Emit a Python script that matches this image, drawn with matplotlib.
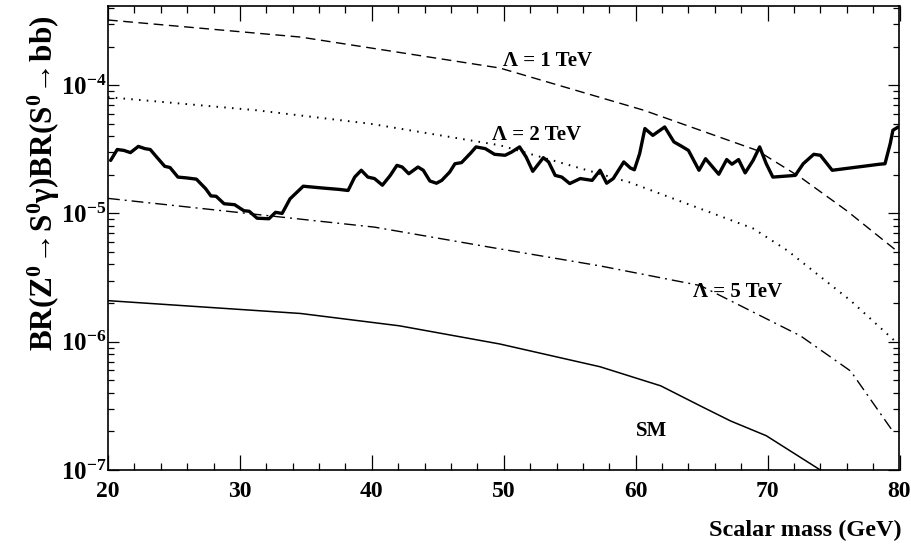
import numpy as np
import matplotlib
matplotlib.use("Agg")
import matplotlib.pyplot as plt
from matplotlib.ticker import MultipleLocator, LogLocator, FuncFormatter, NullFormatter

# experimental limit (thick wiggly curve)
limit_mass = [20.2, 20.7, 21.2, 21.7, 22.3, 22.8, 23.2, 23.8, 24.3, 24.7,
              25.3, 26.0, 26.7, 27.4, 27.8, 28.2, 28.8, 29.6, 30.3, 30.7,
              31.3, 32.2, 32.7, 33.2, 33.8, 34.8, 36.2, 37.5, 38.2, 38.7,
              39.2, 39.7, 40.2, 40.8, 41.4, 41.9, 42.3, 42.8, 43.5, 43.9,
              44.4, 44.9, 45.3, 45.9, 46.3, 46.8, 47.5, 47.9, 48.6, 49.3,
              50.1, 50.6, 51.2, 51.7, 52.2, 53.0, 53.4, 53.9, 54.4, 55.0,
              55.8, 56.7, 57.3, 57.8, 58.3, 59.1, 59.6, 59.9, 60.3, 60.7,
              61.3, 62.2, 62.9, 63.5, 64.0, 64.8, 65.3, 66.3, 66.9, 67.3,
              67.8, 68.3, 68.9, 69.4, 69.9, 70.4, 72.1, 72.7, 73.5, 74.0,
              74.9, 78.5, 78.9, 79.3, 79.5, 79.9]
limit_br = [2.59, 3.15, 3.10, 2.98, 3.33, 3.20, 3.15, 2.67, 2.33, 2.28,
            1.92, 1.89, 1.85, 1.56, 1.37, 1.36, 1.19, 1.17, 1.05, 1.04,
            0.918, 0.909, 1.02, 1.00, 1.30, 1.63, 1.58, 1.54, 1.51, 1.92,
            2.17, 1.92, 1.87, 1.66, 1.98, 2.37, 2.30, 2.04, 2.30, 2.17,
            1.79, 1.72, 1.81, 2.10, 2.44, 2.49, 2.96, 3.30, 3.20, 2.89,
            2.84, 3.01, 3.30, 2.75, 2.13, 2.72, 2.52, 1.98, 1.92, 1.71,
            1.87, 1.81, 2.17, 1.72, 1.87, 2.52, 2.26, 2.19, 2.92, 4.59,
            4.06, 4.72, 3.61, 3.33, 3.10, 2.17, 2.67, 2.02, 2.63, 2.42,
            2.63, 2.07, 2.59, 3.30, 2.44, 1.92, 1.98, 2.44, 2.89, 2.84,
            2.17, 2.42, 2.44, 3.51, 4.45, 4.72]  # x 1e-5

# model predictions
lam1_mass = [20, 34.6, 49.7, 60.6, 69.2, 72.5, 76.0, 79.9]
lam1_br = [3.22e-4, 2.37e-4, 1.36e-4, 6.38e-5, 3.1e-5, 1.91e-5, 1.05e-5, 5.0e-6]

lam2_mass = [20, 31.2, 39.9, 49.7, 59.6, 68.9, 71.5, 76.3, 79.8]
lam2_br = [8.06e-5, 6.38e-5, 5.0e-5, 3.4e-5, 1.74e-5, 7.64e-6, 5.14e-6, 2.09e-6, 9.8e-7]

lam5_mass = [20, 40.2, 49.2, 57.3, 64.9, 72.5, 76.3, 79.5]
lam5_br = [1.31e-5, 7.82e-6, 5.4e-6, 3.9e-6, 2.74e-6, 1.11e-6, 5.9e-7, 2.0e-7]

sm_mass = [20, 34.6, 42.1, 49.7, 57.3, 61.9, 64.9, 67.2, 69.9, 74.0]
sm_br = [2.09e-6, 1.66e-6, 1.33e-6, 9.6e-7, 6.38e-7, 4.53e-7, 3.16e-7, 2.41e-7, 1.85e-7, 1.0e-7]

plt.rcParams['font.family'] = 'Liberation Serif'
plt.rcParams['font.weight'] = 'bold'
plt.rcParams['mathtext.fontset'] = 'custom'
plt.rcParams['mathtext.rm'] = 'Liberation Serif:bold'
plt.rcParams['mathtext.it'] = 'Liberation Serif:bold:italic'
plt.rcParams['mathtext.bf'] = 'Liberation Serif:bold'

W, H = 912, 558
fig = plt.figure(figsize=(W / 100, H / 100), dpi=100)
x0, x1, y0, y1 = 108, 899.5, 6, 470
ax = fig.add_axes([x0 / W, 1 - y1 / H, (x1 - x0) / W, (y1 - y0) / H])

ax.plot(lam1_mass, lam1_br, color='black', lw=1.0, linestyle=(0, (7, 4)))
ax.plot(lam2_mass, lam2_br, color='black', lw=1.4, linestyle=(0, (0.8, 3.2)))
ax.plot(lam5_mass, lam5_br, color='black', lw=1.0, linestyle=(0, (8.5, 3.6, 1.4, 3.6)))
ax.plot(sm_mass, sm_br, color='black', lw=1.1)
ax.plot(limit_mass, np.array(limit_br) * 1e-5, color='black', lw=2.4,
        solid_joinstyle='round', solid_capstyle='round')

ax.set_yscale('log')
ax.set_xlim(20, 80)
ax.set_ylim(1e-7, 4.14e-4)

ax.xaxis.set_major_locator(MultipleLocator(10))
ax.xaxis.set_minor_locator(MultipleLocator(2))
ax.yaxis.set_major_locator(LogLocator(base=10))
ax.yaxis.set_minor_locator(LogLocator(base=10, subs=np.arange(2, 10)))
ax.yaxis.set_minor_formatter(NullFormatter())
ax.yaxis.set_major_formatter(FuncFormatter(lambda v, p: r'$10^{%d}$' % round(np.log10(v))))

ax.tick_params(axis='x', which='major', direction='in', length=10.5, width=0.9,
               top=True, labelsize=17, pad=8)
ax.tick_params(axis='x', which='minor', direction='in', length=5.2, width=0.9, top=True)
ax.tick_params(axis='y', which='major', direction='in', length=8, width=0.9,
               right=True, labelsize=18, pad=1)
ax.tick_params(axis='y', which='minor', direction='in', length=4.3, width=0.9, right=True)
for lab in ax.get_xticklabels():
    lab.set_fontweight('bold')
# nudge the lowest decade label up a little so it clears the "20"
ax.get_yticklabels()[0].set_va('bottom')
for s in ax.spines.values():
    s.set_linewidth(1.2)

ax.text(53.3, 1.54e-4, 'Λ = 1 TeV', fontsize=15, fontweight='bold', ha='center', va='center')
ax.text(52.5, 4.07e-5, 'Λ = 2 TeV', fontsize=15, fontweight='bold', ha='center', va='center')
ax.text(67.7, 2.42e-6, 'Λ = 5 TeV', fontsize=15, fontweight='bold', ha='center', va='center')
ax.text(61.2, 2.02e-7, 'SM', fontsize=15, fontweight='bold', ha='center', va='center')

fig.text(902 / W, 1 - 530 / H, 'Scalar mass (GeV)', fontsize=17.5, fontweight='bold',
         ha='right', va='center')
fig.text(44 / W, 1 - 183 / H,
         r'$\mathbf{BR(Z^0\!\rightarrow\! S^0\gamma)BR(S^0\!\rightarrow\! bb)}$',
         fontsize=22.5, rotation=90, ha='center', va='center')

fig.savefig('out.png', dpi=100, facecolor='white')
